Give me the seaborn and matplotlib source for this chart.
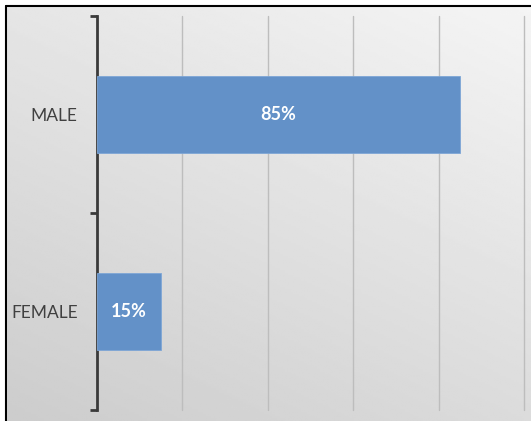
import numpy as np
import seaborn as sns
import matplotlib.pyplot as plt

# data
categories = ['MALE', 'FEMALE']
shares = [85, 15]
bar_labels = ['85%', '15%']

sns.set_style('white')
plt.rcParams['font.family'] = ['Lato', 'DejaVu Sans']

fig = plt.figure(figsize=(5.31, 4.21), dpi=100)

# background gradient (light top-right, darker bottom-left)
bg = fig.add_axes([0, 0, 1, 1], zorder=-2)
yy, xx = np.mgrid[0:1:200j, 0:1:200j]
shade = 0.80 + 0.10 * (1 - yy) + 0.06 * xx
bg.imshow(shade, cmap='gray', vmin=0, vmax=1, extent=[0, 1, 0, 1],
          origin='upper', aspect='auto')
bg.plot([6 / 531, 6 / 531], [0, 1 - 6 / 421], color='black', lw=1.5)
bg.plot([6 / 531, 1], [1 - 6 / 421, 1 - 6 / 421], color='black', lw=1.5)
bg.fill_between([0, 6 / 531], 0, 1, color='white')
bg.fill_between([0, 1], 1 - 6 / 421, 1, color='white')
bg.set_xlim(0, 1)
bg.set_ylim(0, 1)
bg.axis('off')

ax = fig.add_axes([97 / 531, 1 - 410 / 421, (524 - 97) / 531, (410 - 16) / 421])
ax.set_facecolor('none')

sns.barplot(x=shares, y=categories, color='#6391c8', saturation=1,
            width=0.39, orient='h', edgecolor='#7ea6d6', linewidth=0.6,
            ax=ax, zorder=3)
ax.bar_label(ax.containers[0], labels=bar_labels, label_type='center',
             color='white', fontweight='bold', fontsize=13)

ax.set_xlim(0, 100)
ax.set_xticks([20, 40, 60, 80, 100])
ax.set_xticklabels([])
ax.tick_params(axis='x', length=0)
ax.grid(axis='x', color='#bdbdbd', lw=1)
for line in ax.get_xgridlines():
    line.set_clip_on(False)
ax.set_ylim(1.5, -0.5)

ax.set_yticks([-0.5, 0.5, 1.5])
ax.set_yticklabels([])
ax.set_yticks([0, 1], minor=True)
ax.set_yticklabels(categories, minor=True, fontsize=12.5, color='#404040')
ax.tick_params(axis='y', which='major', length=5, width=2, color='#3a3a3a',
               direction='out', left=True)
ax.tick_params(axis='y', which='minor', length=0, pad=14)
ax.set_xlabel('')
ax.set_ylabel('')

for side in ['top', 'right', 'bottom']:
    ax.spines[side].set_visible(False)
ax.spines['left'].set_color('#3a3a3a')
ax.spines['left'].set_linewidth(2)

fig.savefig('out.png', dpi=100)
